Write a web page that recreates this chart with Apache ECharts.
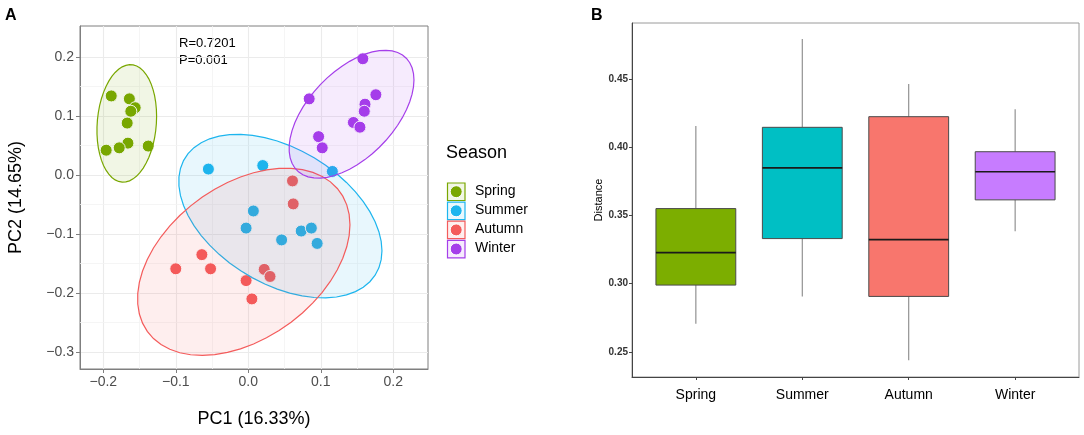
<!DOCTYPE html>
<html>
<head>
<meta charset="utf-8">
<script src="https://cdn.jsdelivr.net/npm/echarts@6/dist/echarts.min.js"></script>
<style>
html, body { margin: 0; padding: 0; background: #fff; }
#main { width: 1084px; height: 435px; }
</style>
</head>
<body>
<div id="main"></div>
<script>
// groups and colours
var seasons = ['Spring', 'Summer', 'Autumn', 'Winter'];
var pcaColors = ['#79a700', '#1db5ee', '#f45b5b', '#a53eea'];
var boxColors = ['#7cae00', '#00bfc4', '#f8766d', '#c77cff'];

// PCoA scores [PC1, PC2]
var springPts = [[-0.189, 0.134], [-0.164, 0.129], [-0.156, 0.114], [-0.162, 0.108], [-0.167, 0.088],
    [-0.166, 0.054], [-0.178, 0.046], [-0.196, 0.042], [-0.138, 0.049]];
var summerPts = [[-0.055, 0.010], [0.020, 0.016], [0.116, 0.006], [0.007, -0.061], [-0.003, -0.090],
    [0.046, -0.110], [0.073, -0.095], [0.087, -0.090], [0.095, -0.116]];
var autumnPts = [[0.061, -0.010], [0.062, -0.049], [-0.064, -0.135], [-0.100, -0.159], [-0.052, -0.159],
    [0.022, -0.160], [0.030, -0.172], [-0.003, -0.179], [0.005, -0.210]];
var winterPts = [[0.158, 0.197], [0.084, 0.129], [0.176, 0.136], [0.161, 0.120], [0.160, 0.108],
    [0.145, 0.089], [0.154, 0.081], [0.097, 0.065], [0.102, 0.046]];
var groupPts = [springPts, summerPts, autumnPts, winterPts];

// panel B, per season: [lower whisker, Q1, median, Q3, upper whisker]
var springBox = [0.2706, 0.2990, 0.3228, 0.3551, 0.4157];
var summerBox = [0.2907, 0.3331, 0.3850, 0.4147, 0.4794];
var autumnBox = [0.2439, 0.2907, 0.3324, 0.4225, 0.4465];
var winterBox = [0.3385, 0.3615, 0.3821, 0.3968, 0.4279];
var boxStats = [springBox, summerBox, autumnBox, winterBox];

// tick breaks
var pc1Ticks = [-0.2, -0.1, 0, 0.1, 0.2];
var pc2Ticks = [-0.3, -0.2, -0.1, 0, 0.1, 0.2];
var pc1Minor = [-0.15, -0.05, 0.05, 0.15];
var pc2Minor = [0.15, 0.05, -0.05, -0.15, -0.25];
var distTicks = [0.25, 0.30, 0.35, 0.40, 0.45];
var seasonTicks = [1, 2, 3, 4];

var FONT = '"Liberation Sans", Arial, sans-serif';

// robust t covariance (like MASS::cov.trob, nu = 5)
function covTrob(pts) {
    var n = pts.length, nu = 5, p = 2;
    var loc = [0, 0];
    pts.forEach(function (d) { loc[0] += d[0] / n; loc[1] += d[1] / n; });
    var w = pts.map(function () { return 1; });
    var X = [];
    for (var iter = 0; iter < 25; iter++) {
        var w0 = w.slice();
        X = pts.map(function (d) { return [d[0] - loc[0], d[1] - loc[1]]; });
        var sw = w.reduce(function (a, b) { return a + b; }, 0);
        var s11 = 0, s12 = 0, s22 = 0;
        X.forEach(function (x, i) {
            s11 += w[i] / sw * x[0] * x[0];
            s12 += w[i] / sw * x[0] * x[1];
            s22 += w[i] / sw * x[1] * x[1];
        });
        var det = s11 * s22 - s12 * s12;
        w = X.map(function (x) {
            var q = (s22 * x[0] * x[0] - 2 * s12 * x[0] * x[1] + s11 * x[1] * x[1]) / det;
            return (nu + p) / (nu + q);
        });
        var tw = w.reduce(function (a, b) { return a + b; }, 0);
        loc = [0, 0];
        pts.forEach(function (d, i) { loc[0] += w[i] * d[0] / tw; loc[1] += w[i] * d[1] / tw; });
        var done = w.every(function (v, i) { return Math.abs(v - w0[i]) < 0.01; });
        if (done) break;
    }
    var c11 = 0, c12 = 0, c22 = 0;
    X.forEach(function (x, i) {
        c11 += w[i] * x[0] * x[0] / n;
        c12 += w[i] * x[0] * x[1] / n;
        c22 += w[i] * x[1] * x[1] / n;
    });
    return { center: loc, cov: [c11, c12, c22] };
}

// 95% ellipse outline as in ggplot2 stat_ellipse(type = "t")
function ellipsePath(pts) {
    var ct = covTrob(pts);
    var d = pts.length - 1;
    var qf = d / 2 * (Math.pow(0.05, -2 / d) - 1);   // qf(0.95, 2, d)
    var radius = Math.sqrt(2 * qf);
    var r11 = Math.sqrt(ct.cov[0]);
    var r12 = ct.cov[1] / r11;
    var r22 = Math.sqrt(ct.cov[2] - r12 * r12);
    var out = [];
    for (var k = 0; k <= 51; k++) {
        var a = k * 2 * Math.PI / 51;
        out.push([ct.center[0] + radius * Math.cos(a) * r11,
            ct.center[1] + radius * (Math.cos(a) * r12 + Math.sin(a) * r22)]);
    }
    return out;
}
var ellipses = groupPts.map(ellipsePath);

function hexA(hex, a) {
    var r = parseInt(hex.substr(1, 2), 16), g = parseInt(hex.substr(3, 2), 16), b = parseInt(hex.substr(5, 2), 16);
    return 'rgba(' + r + ',' + g + ',' + b + ',' + a + ')';
}

function pcLabel(v) {
    return Math.abs(v) < 1e-9 ? '0.0' : v.toFixed(1).replace('-', '\u2212');
}

var myChart = echarts.init(document.getElementById('main'));

var series = [];

// minor grid lines of panel A
series.push({
    type: 'scatter', xAxisIndex: 0, yAxisIndex: 0, data: [], z: 1, silent: true,
    markLine: {
        z: 1, silent: true, symbol: 'none', animation: false,
        label: { show: false },
        lineStyle: { color: '#f3f3f3', width: 0.8, type: 'solid' },
        data: pc1Minor.map(function (v) { return { xAxis: v }; })
            .concat(pc2Minor.map(function (v) { return { yAxis: v }; }))
    }
});

groupPts.forEach(function (pts, i) {
    series.push({
        name: seasons[i], type: 'scatter', xAxisIndex: 0, yAxisIndex: 0, z: 2,
        data: pts, symbolSize: 12,
        itemStyle: { color: pcaColors[i], borderColor: '#fff', borderWidth: 1, opacity: 1 }
    });
});

// confidence ellipses, drawn over the points
series.push({
    type: 'custom', xAxisIndex: 0, yAxisIndex: 0, z: 3, silent: true,
    data: ellipses.map(function (e, i) { return [e[0][0], e[0][1], i]; }),
    encode: { x: 0, y: 1 },
    renderItem: function (params, api) {
        var i = api.value(2);
        var pts = ellipses[i].map(function (p) { return api.coord(p); });
        return {
            type: 'polygon',
            shape: { points: pts },
            style: { fill: hexA(pcaColors[i], 0.1), stroke: pcaColors[i], lineWidth: 1.2 }
        };
    }
});

// panel B boxes
series.push({
    type: 'custom', xAxisIndex: 1, yAxisIndex: 1, z: 2,
    data: boxStats.map(function (b, i) { return [seasonTicks[i]].concat(b); }),
    encode: { x: 0, y: [1, 2, 3, 4, 5] },
    renderItem: function (params, api) {
        var x = api.value(0);
        var lo = api.coord([x, api.value(1)]);
        var q1 = api.coord([x, api.value(2)]);
        var md = api.coord([x, api.value(3)]);
        var q3 = api.coord([x, api.value(4)]);
        var hi = api.coord([x, api.value(5)]);
        var half = (api.coord([x + 0.375, 0.3])[0] - api.coord([x, 0.3])[0]);
        var cx = lo[0];
        return {
            type: 'group',
            children: [
                { type: 'line', shape: { x1: cx, y1: hi[1], x2: cx, y2: q3[1] }, style: { stroke: '#888', lineWidth: 1.1 } },
                { type: 'line', shape: { x1: cx, y1: q1[1], x2: cx, y2: lo[1] }, style: { stroke: '#888', lineWidth: 1.1 } },
                { type: 'rect', shape: { x: cx - half, y: q3[1], width: 2 * half, height: q1[1] - q3[1] },
                    style: { fill: boxColors[params.dataIndex], stroke: '#4a4a4a', lineWidth: 1 } },
                { type: 'line', shape: { x1: cx - half, y1: md[1], x2: cx + half, y2: md[1] }, style: { stroke: '#1a1a1a', lineWidth: 1.7 } }
            ]
        };
    }
});

// legend of panel A
var legendItems = [{ type: 'text', left: 446, top: 144, style: { text: 'Season', font: '18px ' + FONT, fill: '#000' } }];
seasons.forEach(function (s, i) {
    var y = 183 + i * 19.1;
    legendItems.push({ type: 'rect', shape: { x: 447.5, y: y, width: 17.5, height: 17.5 },
        style: { fill: hexA(pcaColors[i], 0.1), stroke: pcaColors[i], lineWidth: 1.2 } });
    legendItems.push({ type: 'circle', shape: { cx: 456.2, cy: y + 8.7, r: 6 },
        style: { fill: pcaColors[i], stroke: '#fff', lineWidth: 1 } });
    legendItems.push({ type: 'text', left: 475, top: y + 1, style: { text: s, font: '14px ' + FONT, fill: '#000' } });
});

option = {
    animation: false,
    textStyle: { fontFamily: FONT },
    grid: [
        { left: 80, top: 26, width: 348, height: 343, show: true, borderColor: '#7f7f7f', borderWidth: 1, backgroundColor: '#fff' },
        { left: 632, top: 23, width: 447, height: 354, show: true, borderColor: '#9a9a9a', borderWidth: 1, backgroundColor: '#fff' }
    ],
    xAxis: [{
        gridIndex: 0, type: 'value', min: -0.2321, max: 0.2479,
        name: 'PC1 (16.33%)', nameLocation: 'middle', nameGap: 41,
        nameTextStyle: { fontSize: 18, color: '#000', fontFamily: FONT },
        axisLine: { show: true, onZero: false, lineStyle: { color: '#7f7f7f' } },
        axisTick: { show: true, length: 4, customValues: pc1Ticks, lineStyle: { color: '#7f7f7f' } },
        axisLabel: { fontSize: 14, color: '#4d4d4d', margin: 6, customValues: pc1Ticks, formatter: pcLabel },
        splitLine: { show: true, lineStyle: { color: '#ebebeb', width: 1.1 } }
    }, {
        gridIndex: 1, type: 'value', min: 0.4, max: 4.6,
        axisLine: { show: true, onZero: false, lineStyle: { color: '#444' } },
        axisTick: { show: true, length: 3, customValues: seasonTicks, lineStyle: { color: '#444' } },
        axisLabel: { fontSize: 14, color: '#000', margin: 11, customValues: seasonTicks,
            formatter: function (v) { return seasons[Math.round(v) - 1] || ''; } },
        splitLine: { show: false }
    }],
    yAxis: [{
        gridIndex: 0, type: 'value', min: -0.3288, max: 0.2525,
        name: 'PC2 (14.65%)', nameLocation: 'middle', nameGap: 55,
        nameTextStyle: { fontSize: 18, color: '#000', fontFamily: FONT },
        axisLine: { show: true, onZero: false, lineStyle: { color: '#7f7f7f' } },
        axisTick: { show: true, length: 4, customValues: pc2Ticks, lineStyle: { color: '#7f7f7f' } },
        axisLabel: { fontSize: 14, color: '#4d4d4d', margin: 6, customValues: pc2Ticks, formatter: pcLabel },
        splitLine: { show: true, lineStyle: { color: '#ebebeb', width: 1.1 } }
    }, {
        gridIndex: 1, type: 'value', min: 0.2316, max: 0.4912,
        name: 'Distance', nameLocation: 'middle', nameGap: 25,
        nameTextStyle: { fontSize: 11, color: '#000', fontFamily: FONT },
        axisLine: { show: true, onZero: false, lineStyle: { color: '#444' } },
        axisTick: { show: true, length: 3, customValues: distTicks, lineStyle: { color: '#444' } },
        axisLabel: { fontSize: 10, fontWeight: 'bold', color: '#333', margin: 4, customValues: distTicks,
            formatter: function (v) { return v.toFixed(2); } },
        splitLine: { show: false }
    }],
    graphic: [
        { type: 'text', left: 5, top: 8, style: { text: 'A', font: 'bold 16px ' + FONT, fill: '#000' } },
        { type: 'text', left: 591, top: 8, style: { text: 'B', font: 'bold 16px ' + FONT, fill: '#000' } },
        { type: 'text', left: 179, top: 35, style: { text: 'R=0.7201\nP=0.001', font: '13px ' + FONT, fill: '#000', lineHeight: 17 } },
        { type: 'group', children: legendItems }
    ],
    series: series
};

myChart.setOption(option);
</script>
</body>
</html>
